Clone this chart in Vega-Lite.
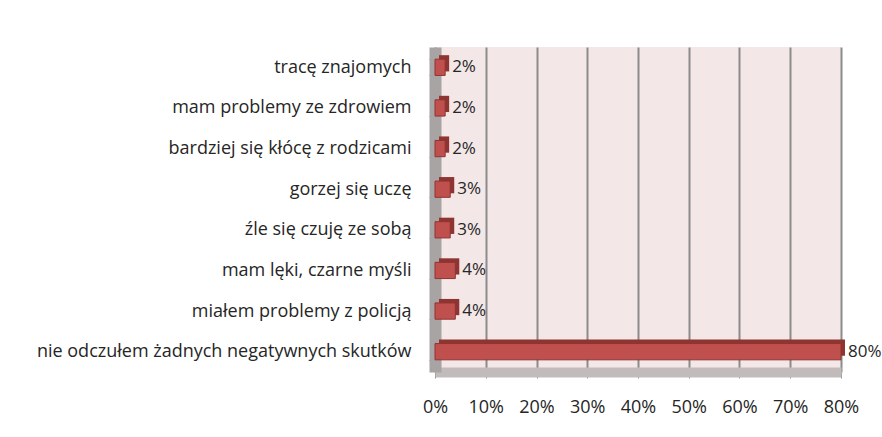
{
  "$schema": "https://vega.github.io/schema/vega-lite/v6.json",
  "autosize": "none",
  "width": 406,
  "height": 325,
  "padding": {"left": 435, "top": 47, "right": 41, "bottom": 65},
  "background": "white",
  "config": {
    "font": "Open Sans",
    "view": {"fill": "#F3E7E7", "stroke": null}
  },
  "data": {
    "values": [
      {"kategoria": "tracę znajomych", "procent": 0.02},
      {"kategoria": "mam problemy ze zdrowiem", "procent": 0.02},
      {"kategoria": "bardziej się kłócę z rodzicami", "procent": 0.02},
      {"kategoria": "gorzej się uczę", "procent": 0.03},
      {"kategoria": "źle się czuję ze sobą", "procent": 0.03},
      {"kategoria": "mam lęki, czarne myśli", "procent": 0.04},
      {"kategoria": "miałem problemy z policją", "procent": 0.04},
      {"kategoria": "nie odczułem żadnych negatywnych skutków", "procent": 0.8}
    ]
  },
  "encoding": {
    "y": {
      "field": "kategoria",
      "type": "nominal",
      "sort": null,
      "title": null,
      "scale": {"paddingInner": 0.6, "paddingOuter": 0.3},
      "axis": {
        "labelFont": "Open Sans",
        "labelFontSize": 18,
        "labelColor": "#262626",
        "labelPadding": 18,
        "labelLimit": 430,
        "domainColor": "#A8A4A4",
        "domainWidth": 12,
        "ticks": true,
        "tickColor": "#8C8C8C",
        "tickSize": 6,
        "tickBand": "extent"
      }
    }
  },
  "layer": [
    {
      "mark": {"type": "bar", "color": "#8E3431", "xOffset": 4, "yOffset": -4},
      "encoding": {
        "x": {"field": "procent", "type": "quantitative"}
      }
    },
    {
      "mark": {"type": "bar", "color": "#C0504D", "stroke": "#8E3431", "strokeWidth": 1},
      "encoding": {
        "x": {
          "field": "procent",
          "type": "quantitative",
          "title": null,
          "scale": {"domain": [0, 0.8]},
          "axis": {
            "values": [0, 0.1, 0.2, 0.3, 0.4, 0.5, 0.6, 0.7, 0.8],
            "format": ".0%",
            "labelFont": "Open Sans",
            "labelFontSize": 18,
            "labelColor": "#262626",
            "labelPadding": 20,
            "labelOverlap": false,
            "labelFlush": false,
            "labelBound": false,
            "grid": true,
            "gridColor": "#8C8C8C",
            "gridWidth": 2,
            "domainColor": "#C2BBBB",
            "domainWidth": 10,
            "tickColor": "#8C8C8C",
            "tickSize": 6
          }
        }
      }
    },
    {
      "mark": {"type": "text", "align": "left", "dx": 7, "font": "Open Sans", "fontSize": 17, "color": "#262626"},
      "encoding": {
        "x": {"field": "procent", "type": "quantitative"},
        "text": {"field": "procent", "type": "quantitative", "format": ".0%"}
      }
    }
  ]
}
